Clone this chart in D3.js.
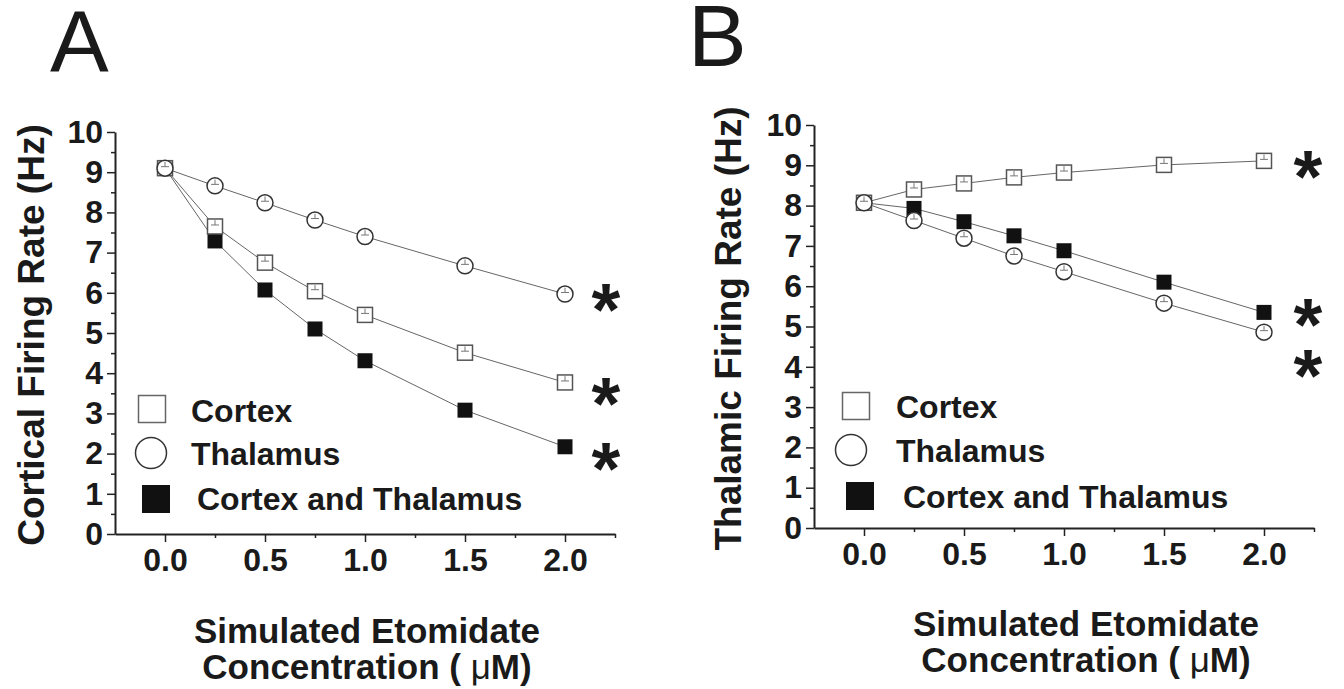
<!DOCTYPE html>
<html>
<head>
<meta charset="utf-8">
<script src="https://cdn.jsdelivr.net/npm/d3@7"></script>
<style>
  body { margin: 0; background: #fff; }
  text { font-family: "Liberation Sans", Arial, sans-serif; fill: #1a1a1a; }
</style>
</head>
<body>
<script>
// concentrations (uM)
var conc = [0, 0.25, 0.5, 0.75, 1.0, 1.5, 2.0]

// panel A: cortical firing rate (Hz)
var cortexA = [9.10, 7.65, 6.75, 6.04, 5.45, 4.51, 3.77]
var thalamusA = [9.10, 8.66, 8.24, 7.81, 7.40, 6.67, 5.97]
var bothA = [9.10, 7.29, 6.07, 5.10, 4.31, 3.08, 2.17]
var starsA = [5.95, 3.6, 2.0]

// panel B: thalamic firing rate (Hz)
var cortexB = [8.07, 8.40, 8.55, 8.70, 8.82, 9.01, 9.11]
var thalamusB = [8.07, 7.63, 7.19, 6.75, 6.36, 5.58, 4.86]
var bothB = [8.07, 7.93, 7.60, 7.25, 6.88, 6.10, 5.35]
var starsB = [9.08, 5.41, 4.14]

var xTicks = [0, 0.5, 1.0, 1.5, 2.0]
var xMinor = [0.25, 0.75, 1.25, 1.75, 2.25]
var yTicks = [0, 1, 2, 3, 4, 5, 6, 7, 8, 9, 10]
var yMinor = [0.5, 1.5, 2.5, 3.5, 4.5, 5.5, 6.5, 7.5, 8.5, 9.5]
var sem = 0.12
var legendNames = ["Cortex", "Thalamus", "Cortex and Thalamus"]

const width = 1344
const height = 689

var svg = d3.select("body").append("svg").attr("width", width).attr("height", height)

var panels = [
    { letter: "A", lx: 50, ly: 72, x0: 115, x1: 615, y0: 534, y1: 132,
      ylab: "Cortical Firing Rate (Hz)", ylabX: 44, xlabX: 367, xlabY: 643,
      cortex: cortexA, thalamus: thalamusA, both: bothA, stars: starsA, starX: 2.205,
      leg: [[152, 409, 191, 422], [151, 453, 191, 465], [156, 499, 197, 510]] },
    { letter: "B", lx: 688, ly: 66, x0: 814, x1: 1314, y0: 528, y1: 125,
      ylab: "Thalamic Firing Rate (Hz)", ylabX: 741, xlabX: 1086, xlabY: 636,
      cortex: cortexB, thalamus: thalamusB, both: bothB, stars: starsB, starX: 2.22,
      leg: [[856, 406, 896, 418], [851, 450, 896, 462], [860, 496, 903, 508]] }
]

panels.forEach(function(p) {
    var g = svg.append("g")
    var x = d3.scaleLinear().domain([-0.25, 2.25]).range([p.x0, p.x1])
    var y = d3.scaleLinear().domain([0, 10]).range([p.y0, p.y1])

    g.append("text").attr("x", p.lx).attr("y", p.ly).text(p.letter)
        .style("font-size", "88px").style("font-weight", "normal")

    // axes
    g.append("g").attr("transform", "translate(0," + p.y0 + ")")
        .call(d3.axisBottom(x).tickValues(xTicks).tickSize(8).tickSizeOuter(0).tickPadding(6).tickFormat(d3.format(".1f")))
    g.append("g").attr("transform", "translate(0," + p.y0 + ")")
        .call(d3.axisBottom(x).tickValues(xMinor).tickSize(4).tickSizeOuter(0).tickFormat(""))
        .select(".domain").remove()
    g.append("g").attr("transform", "translate(" + p.x0 + ",0)")
        .call(d3.axisLeft(y).tickValues(yTicks).tickSize(8).tickSizeOuter(0).tickPadding(4))
    g.append("g").attr("transform", "translate(" + p.x0 + ",0)")
        .call(d3.axisLeft(y).tickValues(yMinor).tickSize(4).tickSizeOuter(0).tickFormat(""))
        .select(".domain").remove()
    g.selectAll(".domain").attr("stroke", "#222").attr("stroke-width", 2)
    g.selectAll(".tick line").attr("stroke", "#222").attr("stroke-width", 1.5)
    g.selectAll(".tick text").style("font-size", "32px").style("font-weight", "bold")
        .style("font-family", "'Liberation Sans', Arial, sans-serif").attr("fill", "#1a1a1a")

    // axis titles
    g.append("text").attr("transform", "translate(" + p.ylabX + "," + ((p.y0 + p.y1) / 2 + 2) + ") rotate(-90)")
        .attr("text-anchor", "middle").style("font-size", "37px").style("font-weight", "bold").text(p.ylab)
    g.append("text").attr("x", p.xlabX).attr("y", p.xlabY).attr("text-anchor", "middle")
        .style("font-size", "35px").style("font-weight", "bold").text("Simulated Etomidate")
    var t2 = g.append("text").attr("x", p.xlabX).attr("y", p.xlabY + 36).attr("text-anchor", "middle")
        .style("font-size", "35px").style("font-weight", "bold")
    t2.append("tspan").text("Concentration ( ")
    t2.append("tspan").style("font-weight", "normal").text("\u03bc")
    t2.append("tspan").text("M)")

    // lines
    var line = d3.line().x((d, i) => x(conc[i])).y((d) => y(d))
    ;[p.both, p.cortex, p.thalamus].forEach(function(s) {
        g.append("path").datum(s).attr("fill", "none").attr("stroke", "#666")
            .attr("stroke-width", 1).attr("d", line)
    })

    var errBar = function(sel, s) {
        sel.selectAll(null).data(s).enter().append("path")
            .attr("d", (d, i) => {
                var cx = x(conc[i]), cy = y(d) - 1.5, top = y(d + sem) - 1.5
                return "M" + (cx - 4) + "," + cy + "H" + (cx + 4) + "M" + cx + "," + cy + "V" + top
            })
            .attr("stroke", "#777").attr("stroke-width", 1).attr("fill", "none")
    }

    // markers: filled squares, open squares, circles
    g.selectAll(null).data(p.both).enter().append("rect")
        .attr("x", (d, i) => x(conc[i]) - 7.5).attr("y", (d) => y(d) - 7.5)
        .attr("width", 15).attr("height", 15).attr("fill", "#111")
    g.selectAll(null).data(p.cortex).enter().append("rect")
        .attr("x", (d, i) => x(conc[i]) - 7.5).attr("y", (d) => y(d) - 7.5)
        .attr("width", 15).attr("height", 15).attr("fill", "#fff")
        .attr("stroke", "#555").attr("stroke-width", 1.5)
    errBar(g, p.cortex)
    g.selectAll(null).data(p.thalamus).enter().append("circle")
        .attr("cx", (d, i) => x(conc[i])).attr("cy", (d) => y(d)).attr("r", 8)
        .attr("fill", "#fff").attr("stroke", "#333").attr("stroke-width", 1.5)
    errBar(g, p.thalamus)

    // significance stars
    g.selectAll(null).data(p.stars).enter().append("text")
        .attr("x", x(p.starX)).attr("y", (d) => y(d) + 40).attr("text-anchor", "middle")
        .style("font-size", "74px").style("font-weight", "bold").text("*")

    // legend
    var L = p.leg
    g.append("rect").attr("x", L[0][0] - 13.5).attr("y", L[0][1] - 13.5).attr("width", 27).attr("height", 27)
        .attr("fill", "#fff").attr("stroke", "#666").attr("stroke-width", 1.5)
    g.append("circle").attr("cx", L[1][0]).attr("cy", L[1][1]).attr("r", 15.5)
        .attr("fill", "#fff").attr("stroke", "#333").attr("stroke-width", 1.5)
    g.append("rect").attr("x", L[2][0] - 14).attr("y", L[2][1] - 14).attr("width", 28).attr("height", 28)
        .attr("fill", "#111")
    legendNames.forEach(function(n, i) {
        g.append("text").attr("x", L[i][2]).attr("y", L[i][3])
            .style("font-size", "32px").style("font-weight", "bold").text(n)
    })
})
</script>
</body>
</html>
